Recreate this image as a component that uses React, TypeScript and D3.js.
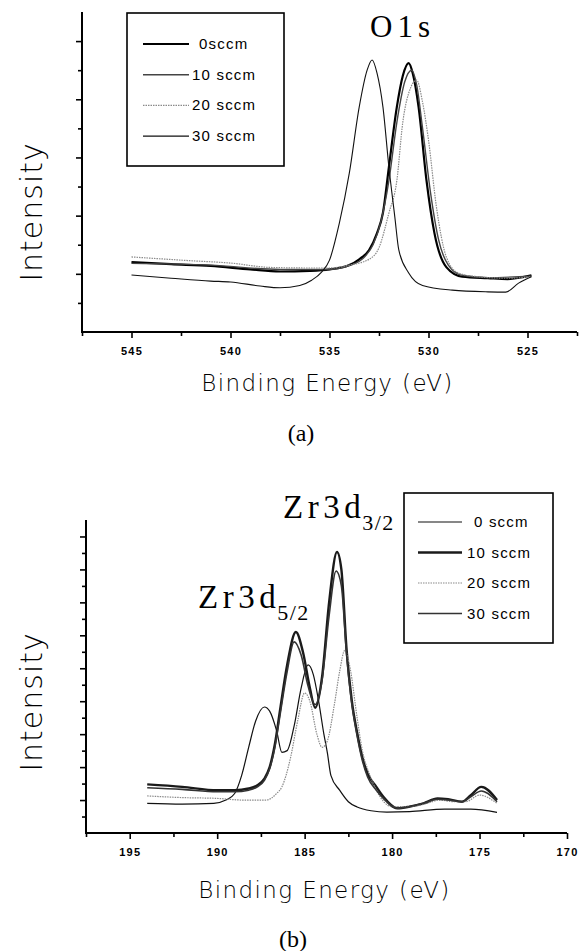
import React, { useEffect, useRef } from 'react'
import * as d3 from 'd3'

// ---- (a) O1s spectra: [binding energy (eV), intensity (a.u.)]
const o1s_0 = [[545, 2.4], [543, 2.33], [541, 2.27], [539, 2.15], [537.5, 2.08], [536, 2.1], [535, 2.15], [534, 2.3], [533.5, 2.5], [533, 2.82], [532.6, 3.4], [532.3, 4.1], [532, 5.67], [531.6, 7.73], [531.3, 8.8], [531, 9.24], [530.8, 8.9], [530.5, 7.73], [530.1, 5.2], [529.7, 3.4], [529.1, 2.23], [528.3, 1.9], [527, 1.85], [526, 1.82], [524.8, 1.95]]
const o1s_10 = [[545, 2.36], [541, 2.3], [537.5, 2.15], [535, 2.15], [534, 2.28], [533.2, 2.6], [532.8, 3.0], [532.4, 3.8], [532, 5.2], [531.6, 7.2], [531.2, 8.6], [530.85, 9.0], [530.6, 8.5], [530.3, 7.0], [529.9, 4.8], [529.5, 3.2], [529, 2.3], [528.3, 1.95], [527, 1.87], [524.8, 1.92]]
const o1s_20 = [[545, 2.58], [542, 2.45], [540, 2.37], [538, 2.22], [536, 2.2], [535, 2.2], [534, 2.3], [533, 2.5], [532.5, 2.9], [532, 4.09], [531.6, 5.2], [531.3, 7.2], [530.9, 8.4], [530.6, 8.66], [530.3, 7.9], [530, 6.6], [529.6, 4.3], [529.1, 2.58], [528.5, 2.03], [527.5, 1.9], [526, 1.85], [524.8, 1.9]]
const o1s_30 = [[545, 1.96], [543, 1.85], [541, 1.75], [540, 1.72], [538.5, 1.58], [537.5, 1.52], [536.5, 1.6], [535.9, 1.78], [535.4, 2.06], [535, 2.47], [534.5, 3.75], [534, 5.46], [533.5, 7.73], [533.1, 9.0], [532.85, 9.35], [532.6, 8.9], [532.3, 7.73], [532, 5.67], [531.7, 3.95], [531.5, 2.82], [531, 2.03], [530.3, 1.6], [528.8, 1.44], [527, 1.38], [526.1, 1.37], [525.45, 1.68], [524.8, 1.9]]

// ---- (b) Zr3d spectra
const zr_0 = [[194, 1.8], [192, 1.75], [190.2, 1.8], [189.5, 2.0], [189, 2.4], [188.6, 3.5], [188.2, 5.2], [187.8, 6.8], [187.3, 7.65], [187, 7.4], [186.6, 6.2], [186.3, 4.9], [186, 5.0], [185.6, 6.5], [185.2, 8.8], [184.8, 10.2], [184.5, 9.6], [184.2, 8.0], [183.9, 6.0], [183.7, 4.86], [183.5, 3.5], [183, 2.6], [182.5, 1.9], [182, 1.58], [181.2, 1.35], [180.3, 1.27], [179, 1.3], [177, 1.45], [175.5, 1.45], [174, 1.25]]
const zr_10 = [[194, 2.95], [192, 2.8], [190, 2.6], [189, 2.6], [188.2, 2.7], [187.7, 2.9], [187.3, 3.3], [187, 4.0], [186.7, 5.4], [186.4, 7.5], [186, 10.2], [185.5, 12.2], [185.1, 11.0], [184.7, 8.8], [184.4, 7.6], [184, 9.5], [183.6, 14.0], [183.15, 17.06], [182.9, 16.0], [182.6, 11.1], [182.3, 8.0], [182, 6.1], [181.7, 4.6], [181.4, 3.6], [180.9, 2.8], [180.5, 2.2], [179.7, 1.5], [179, 1.6], [178.2, 1.8], [177.4, 2.1], [176.8, 2.05], [176, 1.9], [175.5, 2.3], [174.9, 2.8], [174, 2.0]]
const zr_20 = [[194, 2.25], [192, 2.15], [190, 2.1], [188.5, 2.0], [187.2, 2.0], [186.6, 2.4], [186.3, 2.8], [185.8, 4.6], [185.4, 6.8], [185, 8.5], [184.7, 8.0], [184.3, 6.0], [184, 5.2], [183.7, 5.6], [183.3, 7.8], [183, 9.8], [182.7, 11.1], [182.4, 10.0], [182, 7.0], [181.7, 5.0], [181.3, 3.6], [180.9, 2.6], [180, 1.6], [179, 1.6], [178, 1.8], [177.3, 2.0], [176.5, 1.9], [175.8, 1.9], [175, 2.3], [174, 1.8]]
const zr_30 = [[194, 2.75], [192, 2.65], [190, 2.5], [189, 2.5], [188.2, 2.6], [187.7, 2.8], [187.3, 3.2], [187, 3.9], [186.7, 5.2], [186.4, 7.2], [186, 9.8], [185.6, 11.6], [185.2, 10.8], [184.8, 8.9], [184.4, 7.8], [184, 9.3], [183.6, 13.2], [183.2, 15.9], [182.9, 15.0], [182.6, 10.8], [182.3, 7.8], [182, 5.9], [181.7, 4.4], [181.4, 3.4], [180.9, 2.6], [180.5, 2.1], [179.7, 1.5], [179, 1.6], [178.2, 1.8], [177.4, 2.05], [176.8, 2.0], [176, 1.9], [175.5, 2.2], [174.9, 2.55], [174, 1.9]]

const legendA = ['0sccm', '10 sccm', '20 sccm', '30 sccm']
const legendB = ['0 sccm', '10 sccm', '20 sccm', '30 sccm']
const xTicksA = [545, 540, 535, 530, 525]
const xTicksB = [195, 190, 185, 180, 175, 170]

const W = 587, H = 951
const sans = "'Liberation Sans', Arial, sans-serif"
const light = "'DejaVu Sans', sans-serif"
const serif = "'Liberation Serif', 'Times New Roman', serif"

const panels = [
  {
    series: [o1s_0, o1s_10, o1s_20, o1s_30],
    styles: [
      { stroke: '#000', width: 2.2, dash: null },
      { stroke: '#444', width: 1.4, dash: null },
      { stroke: '#8a8a8a', width: 1.2, dash: '1.5,1' },
      { stroke: '#111', width: 1.1, dash: null },
    ],
    legend: legendA, xTicks: xTicksA,
    xDomain: [547.5, 522.5], yMax: 11,
    left: 82, right: 577, top: 12, bottom: 332,
    legendBox: { x: 127, y: 13, w: 157, h: 153, line0: 143, line1: 189, text: 192, row0: 44, step: 30.7 },
    ylabelY: 212, xlabelY: 391, captionY: 441, caption: '(a)',
  },
  {
    series: [zr_0, zr_10, zr_20, zr_30],
    styles: [
      { stroke: '#111', width: 1.2, dash: null },
      { stroke: '#1a1a1a', width: 2.4, dash: null },
      { stroke: '#8a8a8a', width: 1.2, dash: '1.5,1' },
      { stroke: '#333', width: 1.6, dash: null },
    ],
    legend: legendB, xTicks: xTicksB,
    xDomain: [197.5, 170], yMax: 19,
    left: 86, right: 567, top: 520, bottom: 833,
    legendBox: { x: 404, y: 493, w: 149, h: 150, line0: 418, line1: 462, text: 467, row0: 522, step: 30.5 },
    ylabelY: 702, xlabelY: 898, captionY: 947, caption: '(b)',
  },
]

function drawPanel(svg, p) {
  const x = d3.scaleLinear().domain(p.xDomain).range([p.left, p.right])
  const y = d3.scaleLinear().domain([0, p.yMax]).range([p.bottom, p.top])
  const g = svg.append('g')

  const majorX = p.xTicks
  const minorX = d3.range(p.xDomain[0], p.xDomain[1] - 0.01, -2.5).filter(v => !majorX.includes(v))
  const majorY = d3.range(2, p.yMax + 0.01, 2)
  const minorY = d3.range(1, p.yMax, 2)

  const clean = a => a.call(s => s.select('.domain').remove())
    .call(s => s.selectAll('.tick line').attr('stroke', '#000').attr('stroke-width', 1.6))

  g.append('g').attr('transform', `translate(0,${p.bottom})`)
    .call(d3.axisBottom(x).tickValues(minorX).tickSize(4).tickSizeOuter(0).tickFormat(() => ''))
    .call(clean)
  g.append('g').attr('transform', `translate(0,${p.bottom})`)
    .call(d3.axisBottom(x).tickValues(majorX).tickSize(6).tickSizeOuter(0).tickPadding(9).tickFormat(d3.format('d')))
    .call(clean)
    .call(s => s.selectAll('text')
      .attr('fill', '#000').style('font-family', sans).style('font-size', '11px')
      .style('font-weight', 'bold').style('letter-spacing', '1.2px'))
  g.append('g').attr('transform', `translate(${p.left},0)`)
    .call(d3.axisLeft(y).tickValues(minorY).tickSize(4).tickSizeOuter(0).tickFormat(() => ''))
    .call(clean)
  g.append('g').attr('transform', `translate(${p.left},0)`)
    .call(d3.axisLeft(y).tickValues(majorY).tickSize(6).tickSizeOuter(0).tickFormat(() => ''))
    .call(clean)

  // axis lines
  g.append('path')
    .attr('d', `M${p.left},${p.top}V${p.bottom}H${p.right}`)
    .attr('fill', 'none').attr('stroke', '#000').attr('stroke-width', 2)

  const line = d3.line().x(d => x(d[0])).y(d => y(d[1])).curve(d3.curveMonotoneX)
  p.series.forEach((s, i) => {
    const st = p.styles[i]
    g.append('path').datum(s)
      .attr('d', line)
      .attr('fill', 'none')
      .attr('stroke', st.stroke)
      .attr('stroke-width', st.width)
      .attr('stroke-dasharray', st.dash)
      .attr('stroke-linejoin', 'round')
  })

  // legend
  const lb = p.legendBox
  g.append('rect').attr('x', lb.x).attr('y', lb.y).attr('width', lb.w).attr('height', lb.h)
    .attr('fill', '#fff').attr('stroke', '#000').attr('stroke-width', 1.6)
  p.legend.forEach((label, i) => {
    const st = p.styles[i]
    const cy = lb.row0 + i * lb.step
    g.append('line').attr('x1', lb.line0).attr('x2', lb.line1).attr('y1', cy).attr('y2', cy)
      .attr('stroke', st.stroke).attr('stroke-width', st.width).attr('stroke-dasharray', st.dash)
    const digits = (label.match(/^\d+/) || [''])[0].length
    g.append('text').attr('x', lb.text + (digits === 1 ? 7 : 0)).attr('y', cy + 5)
      .text(label)
      .style('font-family', sans).style('font-size', '15px').style('letter-spacing', '1.2px')
  })

  // axis titles
  g.append('text')
    .attr('transform', `translate(42,${p.ylabelY}) rotate(-90)`)
    .attr('text-anchor', 'middle')
    .text('Intensity')
    .style('font-family', light).style('font-size', '30px').style('font-weight', 300).style('letter-spacing', '1px')
  g.append('text')
    .attr('x', (p.left + p.right) / 2 - 2).attr('y', p.xlabelY)
    .attr('text-anchor', 'middle')
    .text('Binding Energy (eV)')
    .style('font-family', light).style('font-size', '23px').style('font-weight', 300).style('letter-spacing', '1.4px')
  g.append('text')
    .attr('x', 301 - (p.caption === '(b)' ? 8 : 0)).attr('y', p.captionY)
    .attr('text-anchor', 'middle')
    .text(p.caption)
    .style('font-family', serif).style('font-size', '24px')
}

function peakLabel(svg, x, yb, main, sub) {
  const t = svg.append('text').attr('x', x).attr('y', yb)
    .style('font-family', serif).style('font-size', '33px').style('letter-spacing', '4.5px')
  t.append('tspan').text(main)
  t.append('tspan').attr('dx', -3).attr('dy', 12).style('font-size', '22px').style('letter-spacing', '1.5px').text(sub)
}

export default function App() {
  const ref = useRef(null)

  useEffect(() => {
    const svg = d3.select(ref.current)
    svg.selectAll('*').remove()
    panels.forEach(p => drawPanel(svg, p))

    svg.append('text').attr('x', 370).attr('y', 37).text('O1s')
      .style('font-family', serif).style('font-size', '31px').style('letter-spacing', '5px')
    peakLabel(svg, 283, 518, 'Zr3d', '3/2')
    peakLabel(svg, 198, 608, 'Zr3d', '5/2')
  }, [])

  return (
    <svg ref={ref} width={W} height={H}
      style={{ position: 'absolute', left: 0, top: 0, background: '#fff' }} />
  )
}
